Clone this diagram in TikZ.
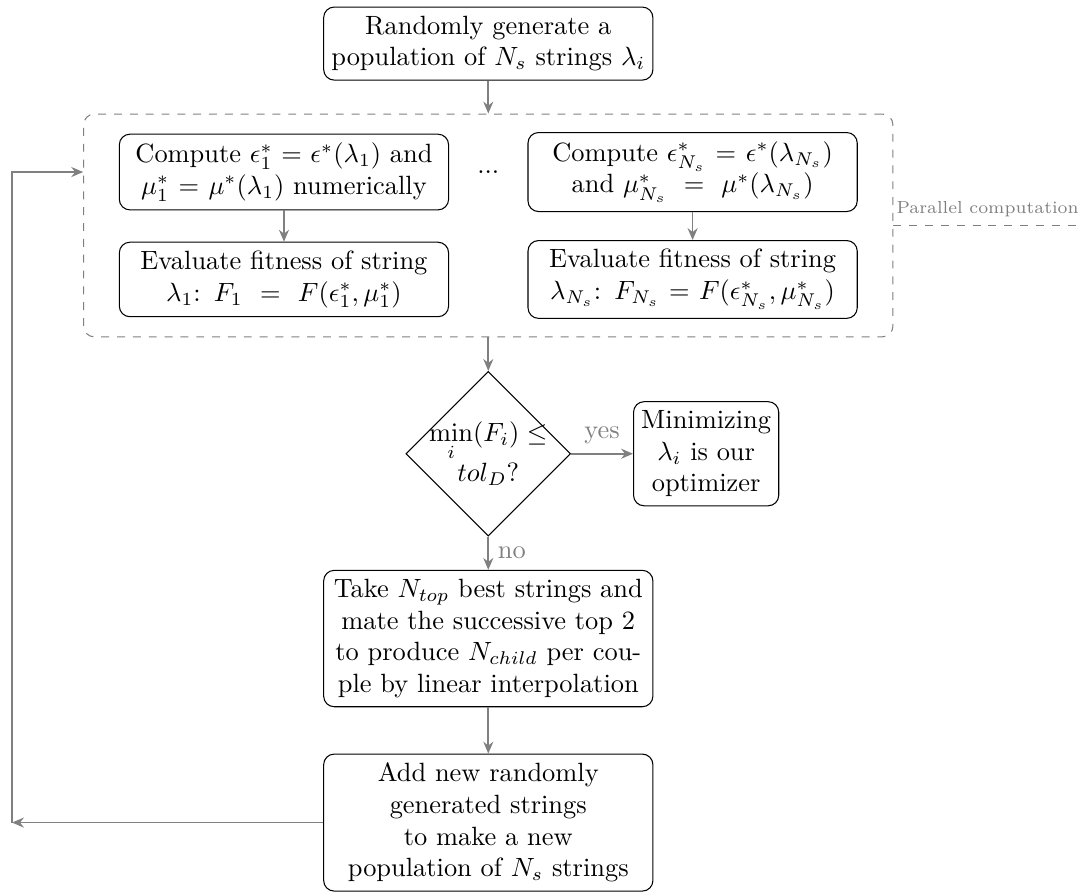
\documentclass[tikz,border=0pt]{standalone}
\usetikzlibrary{shapes.geometric,fit,arrows.meta}

\begin{document}
\begin{tikzpicture}[
    block/.style={rectangle, draw, rounded corners, text width=4.2cm, inner xsep=2.6pt, align=center},
    smallblock/.style={block, text width=1.75cm},
    decision/.style={diamond, draw, text width=46pt, align=center, inner sep=-2pt},
    conn/.style={gray, semithick, -{Stealth[length=4.5pt,width=3.8pt]}},
    ]

    \useasboundingbox (0,0) rectangle (14.39,-11.88);

    \node[block] (init) at (6.5,-0.58) {Randomly generate a\\ population of $N_s$ strings $\lambda_i$};

    \node[block] (comp1) at (3.78,-2.29) {Compute $\epsilon_1^*=\epsilon^*(\lambda_1)$ and\\ $\mu_1^*=\mu^*(\lambda_1)$ numerically};
    \node (dots) at (6.5,-2.29) {...};
    \node[block] (comp2) at (9.22,-2.29) {Compute $\epsilon_{N_s}^*=\epsilon^*(\lambda_{N_s})$\\ and $\mu_{N_s}^* \,=\, \mu^*(\lambda_{N_s})$};

    \node[block] (eval1) at (3.78,-3.72) {Evaluate fitness of string\\ $\lambda_1$: $F_1 \,=\, F(\epsilon_1^*,\mu_1^*)$};
    \node[block] (evalN) at (9.22,-3.72) {Evaluate fitness of string\\ $\lambda_{N_s}$: $F_{N_s}=F(\epsilon_{N_s}^*,\mu_{N_s}^*)$};

    \node[draw=gray, dashed, rounded corners, inner xsep=13.3pt, inner ysep=6.8pt, fit=(comp1) (comp2) (eval1) (evalN)] (par) {};
    \node[above right, gray, font=\fontsize{6.6}{8}\selectfont, inner xsep=1pt, inner ysep=3pt] (parlabel) at (par.east) {Parallel computation};
    \draw[gray, dashed] (par.east) -- (parlabel.south east);

    \node[decision] (test) at (6.5,-6.04) {$\min\limits_i(F_i) \leq$\\ $tol_D$?};
    \node[smallblock] (stop) at (9.4,-6.04) {Minimizing\\ $\lambda_i$ is our\\ optimizer};

    \node[block] (mate) at (6.5,-8.5) {Take $N_{top}$ best strings and\\ mate the successive top 2\\ to produce $N_{child}$ per cou-\\ple by linear interpolation};
    \node[block] (renew) at (6.5,-10.95) {Add new randomly\\ generated strings\\ to make a new\\ population of $N_s$ strings};
    \coordinate (back) at (0.16,-10.95);

    \draw[conn] (init) -- (par);
    \draw[conn] (comp1) -- (eval1);
    \draw[conn] (comp2) -- (evalN);
    \draw[conn] (par) -- (test);
    \draw[conn] (test) -- node[above] {yes} (stop);
    \draw[conn] (test) -- node[right] {no} (mate);
    \draw[conn] (mate) -- (renew);
    \draw[conn] (renew) -- (back);
    \draw[conn] (back) |- (par.west |- comp1);
    \end{tikzpicture}
\end{document}
